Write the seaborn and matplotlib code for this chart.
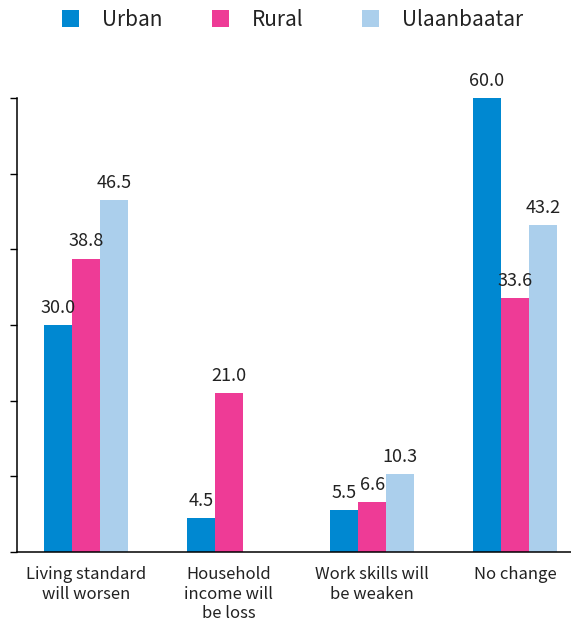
import numpy as np
import pandas as pd
import matplotlib
matplotlib.use("Agg")
import matplotlib.pyplot as plt
import seaborn as sns

categories = ["Living standard\nwill worsen", "Household\nincome will\nbe loss",
              "Work skills will\nbe weaken", "No change"]
series = ["Urban", "Rural", "Ulaanbaatar"]
urban = [30.0, 4.5, 5.5, 60.0]
rural = [38.8, 21.0, 6.6, 33.6]
ulaanbaatar = [46.5, np.nan, 10.3, 43.2]
colors = ["#0088D1", "#EE3B96", "#ABCFEC"]

sns.set_style("white")
plt.rcParams["font.family"] = ["Noto Sans CJK KR", "DejaVu Sans"]

rows = []
for name, vals in zip(series, [urban, rural, ulaanbaatar]):
    for cat, v in zip(categories, vals):
        rows.append({"category": cat, "area": name, "value": v})
df = pd.DataFrame(rows)

fig = plt.figure(figsize=(5.71, 6.21), dpi=100)
ax = fig.add_axes([0.030, 0.111, 0.97, 0.731])

sns.barplot(data=df, x="category", y="value", hue="area", hue_order=series,
            order=categories, palette=colors, width=0.59, saturation=1,
            errorbar=None, linewidth=0, ax=ax, legend=True)

# value labels above each drawn bar
for cont in ax.containers:
    for bar in cont.patches:
        if bar is None:
            continue
        h = bar.get_height()
        if np.isnan(h):
            continue
        ax.annotate(f"{h:.1f}", (bar.get_x() + bar.get_width() / 2, h),
                    xytext=(0, 6), textcoords="offset points",
                    ha="center", va="bottom", fontsize=13, color="#222222")

ax.set_ylim(0, 60)
ax.set_xlim(-0.48, 3.39)
ax.set_yticks(np.arange(0, 61, 10))
ax.set_yticklabels([])
ax.set_xlabel("")
ax.set_ylabel("")
ax.tick_params(axis="y", direction="out", length=5, width=1, color="black", left=True)
ax.tick_params(axis="x", length=0, labelsize=12, labelcolor="#222222", pad=10)
for side in ["top", "right"]:
    ax.spines[side].set_visible(False)
for side in ["left", "bottom"]:
    ax.spines[side].set_color("black")
    ax.spines[side].set_linewidth(1.1)

# legend entries sit in equally spaced slots across the top
handles, labels = ax.get_legend_handles_labels()
ax.get_legend().remove()
slot_x = [0.1086, 0.3713, 0.6340]
for h, lab, x in zip(handles, labels, slot_x):
    fig.legend([h], [lab], loc="upper left", bbox_to_anchor=(x, 0.986),
               frameon=False, fontsize=15, handlelength=0.82, handleheight=0.82,
               handletextpad=1.1, borderpad=0, borderaxespad=0,
               labelcolor="#222222")

fig.savefig("out.png", dpi=100)
